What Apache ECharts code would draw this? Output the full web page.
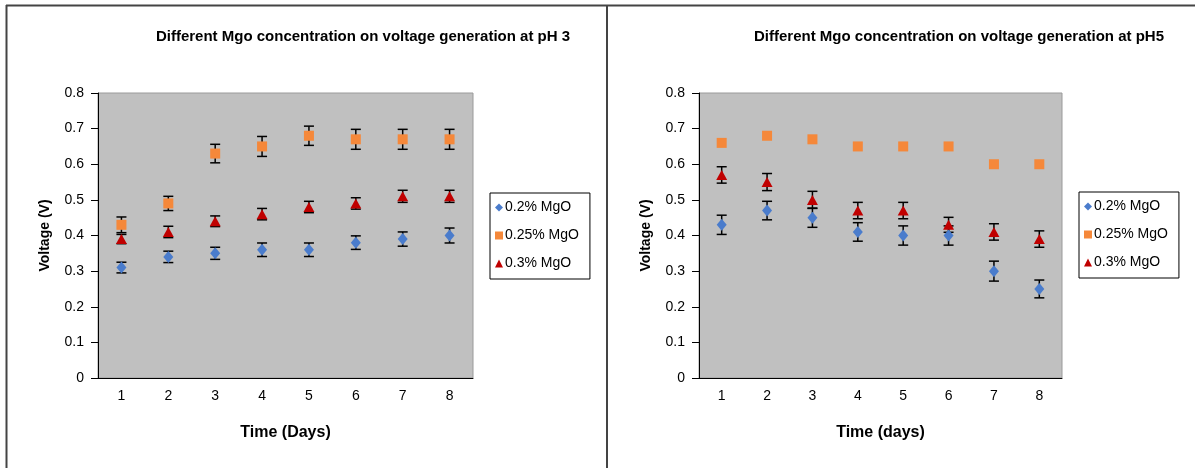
<!DOCTYPE html>
<html>
<head>
<meta charset="utf-8">
<script src="https://cdn.jsdelivr.net/npm/echarts@6/dist/echarts.min.js"></script>
<style>
  html, body { margin: 0; padding: 0; background: #fff; }
  #chart { width: 1195px; height: 468px; }
</style>
</head>
<body>
<div id="chart"></div>
<script>
// days on the x axis
const days = ['1', '2', '3', '4', '5', '6', '7', '8'];
const seriesNames = ['0.2% MgO', '0.25% MgO', '0.3% MgO'];

// pH 3
const ph3Mgo02 = [0.31, 0.34, 0.35, 0.36, 0.36, 0.38, 0.39, 0.40];
const ph3Mgo025 = [0.43, 0.49, 0.63, 0.65, 0.68, 0.67, 0.67, 0.67];
const ph3Mgo03 = [0.39, 0.41, 0.44, 0.46, 0.48, 0.49, 0.51, 0.51];
const ph3Err02 = [0.015, 0.016, 0.017, 0.019, 0.019, 0.019, 0.020, 0.021];
const ph3Err025 = [0.022, 0.020, 0.026, 0.028, 0.027, 0.028, 0.028, 0.028];
const ph3Err03 = [0.013, 0.016, 0.015, 0.016, 0.016, 0.016, 0.017, 0.017];

// pH 5
const ph5Mgo02 = [0.43, 0.47, 0.45, 0.41, 0.40, 0.40, 0.30, 0.25];
const ph5Mgo025 = [0.66, 0.68, 0.67, 0.65, 0.65, 0.65, 0.60, 0.60];
const ph5Mgo03 = [0.57, 0.55, 0.50, 0.47, 0.47, 0.43, 0.41, 0.39];
const ph5Err02 = [0.027, 0.026, 0.027, 0.026, 0.027, 0.027, 0.028, 0.025];
const ph5Err03 = [0.023, 0.024, 0.024, 0.023, 0.023, 0.021, 0.023, 0.023];

const colors = ['#4a7ccc', '#f5883a', '#c00000'];
const symbols = ['diamond', 'rect', 'triangle'];
const symbolSizes = [[10, 12], 10, [11, 10]];
const font = 'Arial, "Liberation Sans", sans-serif';

const chartDom = document.getElementById('chart');
const myChart = echarts.init(chartDom);

function errData(vals, errs) {
    return vals.map((v, i) => [i, v - errs[i], v + errs[i]]);
}

// vertical error bar with caps
function renderErr(params, api) {
    const lo = api.coord([api.value(0), api.value(1)]);
    const hi = api.coord([api.value(0), api.value(2)]);
    const w = 5;
    const style = { stroke: '#000', lineWidth: 1.5 };
    return {
        type: 'group',
        children: [
            { type: 'line', shape: { x1: lo[0], y1: lo[1], x2: hi[0], y2: hi[1] }, style: style },
            { type: 'line', shape: { x1: lo[0] - w, y1: lo[1], x2: lo[0] + w, y2: lo[1] }, style: style },
            { type: 'line', shape: { x1: hi[0] - w, y1: hi[1], x2: hi[0] + w, y2: hi[1] }, style: style }
        ]
    };
}

function scatter(idx, data, axisIdx) {
    return {
        name: seriesNames[idx],
        type: 'scatter',
        xAxisIndex: axisIdx,
        yAxisIndex: axisIdx,
        data: data,
        symbol: symbols[idx],
        symbolSize: symbolSizes[idx],
        itemStyle: { color: colors[idx], opacity: 1 },
        z: 3,
        silent: true
    };
}

function errSeries(data, axisIdx) {
    return {
        type: 'custom',
        xAxisIndex: axisIdx,
        yAxisIndex: axisIdx,
        data: data,
        renderItem: renderErr,
        z: 2,
        silent: true
    };
}

function xAxis(gridIdx, name) {
    return {
        type: 'category',
        gridIndex: gridIdx,
        data: days,
        name: name,
        nameLocation: 'middle',
        nameGap: 47,
        nameTextStyle: { fontFamily: font, fontSize: 16, fontWeight: 'bold', color: '#000' },
        axisLine: { lineStyle: { color: '#000', width: 1 } },
        axisTick: { length: 6, lineStyle: { color: '#000' } },
        axisLabel: { margin: 11, fontFamily: font, fontSize: 14, color: '#000' },
        splitLine: { show: false }
    };
}

function yAxis(gridIdx) {
    return {
        type: 'value',
        gridIndex: gridIdx,
        min: 0,
        max: 0.8,
        interval: 0.1,
        name: 'Voltage (V)',
        nameLocation: 'middle',
        nameGap: 46,
        nameTextStyle: { fontFamily: font, fontSize: 14, fontWeight: 'bold', color: '#000' },
        axisLine: { show: true, lineStyle: { color: '#000', width: 1 } },
        axisTick: { show: true, length: 7, lineStyle: { color: '#000' } },
        axisLabel: { margin: 14, fontFamily: font, fontSize: 14, color: '#000' },
        splitLine: { show: false }
    };
}

function legend(left, top) {
    return {
        orient: 'vertical',
        left: left,
        top: top,
        data: seriesNames,
        itemWidth: 8,
        itemHeight: 8,
        itemGap: 11,
        itemStyle: { borderWidth: 0 },
        padding: [6, 11, 7, 5],
        borderColor: '#000',
        borderWidth: 1,
        selectedMode: false,
        textStyle: { fontFamily: font, fontSize: 14, color: '#000', padding: [0, 0, 0, -3], lineHeight: 17 }
    };
}

const titleStyle = { fontFamily: font, fontSize: 15, fontWeight: 'bold', color: '#000' };

myChart.setOption({
    animation: false,
    title: [{
        text: 'Different Mgo concentration on voltage generation at pH 3',
        left: 358,
        top: 24,
        textAlign: 'center',
        textStyle: titleStyle
    }, {
        text: 'Different Mgo concentration on voltage generation at pH5',
        left: 954,
        top: 24,
        textAlign: 'center',
        textStyle: titleStyle
    }],
    legend: [legend(490, 193), legend(1079, 192)],
    grid: [
        { left: 98, top: 93, width: 375, height: 285, show: true, backgroundColor: '#c0c0c0', borderColor: '#9a9a9a', borderWidth: 1 },
        { left: 699, top: 93, width: 363, height: 285, show: true, backgroundColor: '#c0c0c0', borderColor: '#9a9a9a', borderWidth: 1 }
    ],
    xAxis: [xAxis(0, 'Time (Days)'), xAxis(1, 'Time (days)')],
    yAxis: [yAxis(0), yAxis(1)],
    graphic: [
        { type: 'line', shape: { x1: 6, y1: 5.5, x2: 1195, y2: 5.5 }, style: { stroke: '#444', lineWidth: 2 }, silent: true },
        { type: 'line', shape: { x1: 6.5, y1: 5, x2: 6.5, y2: 468 }, style: { stroke: '#444', lineWidth: 2 }, silent: true },
        { type: 'line', shape: { x1: 607, y1: 5, x2: 607, y2: 468 }, style: { stroke: '#444', lineWidth: 2 }, silent: true }
    ],
    series: [
        errSeries(errData(ph3Mgo02, ph3Err02), 0),
        errSeries(errData(ph3Mgo025, ph3Err025), 0),
        errSeries(errData(ph3Mgo03, ph3Err03), 0),
        scatter(0, ph3Mgo02, 0),
        scatter(1, ph3Mgo025, 0),
        scatter(2, ph3Mgo03, 0),
        errSeries(errData(ph5Mgo02, ph5Err02), 1),
        errSeries(errData(ph5Mgo03, ph5Err03), 1),
        scatter(0, ph5Mgo02, 1),
        scatter(1, ph5Mgo025, 1),
        scatter(2, ph5Mgo03, 1)
    ]
});

window.onresize = function () {
    myChart.resize();
}
</script>
</body>
</html>
